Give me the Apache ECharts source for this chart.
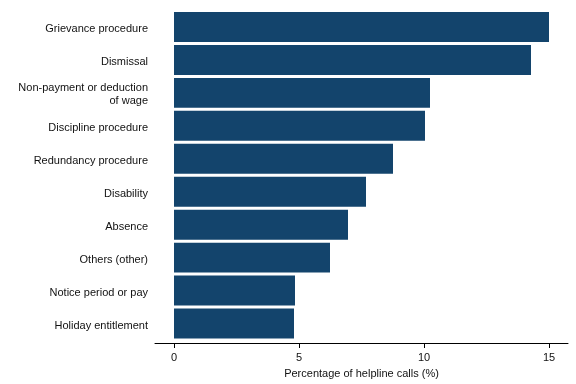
<!DOCTYPE html>
<html>
<head>
<meta charset="utf-8">
<script src="https://cdn.jsdelivr.net/npm/echarts@6/dist/echarts.min.js"></script>
<style>html,body{margin:0;padding:0;background:#fff;}#c{width:576px;height:384px;}</style>
</head>
<body>
<div id="c"></div>
<script>
var categories = ["Grievance procedure", "Dismissal", "Non-payment or deduction\nof wage", "Discipline procedure", "Redundancy procedure", "Disability", "Absence", "Others (other)", "Notice period or pay", "Holiday entitlement"];
var values = [15.0, 14.28, 10.24, 10.04, 8.76, 7.68, 6.96, 6.24, 4.84, 4.8];
var xTicks = [0, 5, 10, 15];

var chart = echarts.init(document.getElementById('c'), null, {renderer: 'canvas'});
chart.setOption({
  animation: false,
  grid: {left: 155, right: 8, top: 10.5, bottom: 43.5, containLabel: false},
  xAxis: {
    type: 'value',
    min: -0.76, max: 15.76,
    offset: 3,
    name: 'Percentage of helpline calls (%)',
    nameLocation: 'middle',
    nameGap: 25,
    nameTextStyle: {fontFamily: 'Liberation Sans, Arial', fontSize: 11, color: '#111'},
    axisLine: {show: true, lineStyle: {color: '#000', width: 1}},
    axisTick: {show: true, length: 5, customValues: xTicks, lineStyle: {color: '#000'}},
    axisLabel: {customValues: xTicks, margin: 9, fontFamily: 'Liberation Sans, Arial', fontSize: 11, color: '#111'},
    splitLine: {show: false}
  },
  yAxis: {
    type: 'category',
    data: categories,
    inverse: true,
    axisLine: {show: false},
    axisTick: {show: false},
    axisLabel: {
      margin: 7, fontFamily: 'Liberation Sans, Arial', fontSize: 11, color: '#111', lineHeight: 13, align: 'right',
      formatter: function (v) {
        return '{s|}\n' + v.split('\n').map(function (l) { return '{t|' + l + '}'; }).join('\n');
      },
      rich: {
        s: {lineHeight: 4, fontSize: 4},
        t: {fontFamily: 'Liberation Sans, Arial', fontSize: 11, color: '#111', lineHeight: 13, align: 'right'}
      }
    }
  },
  series: [{
    type: 'bar',
    data: values,
    barCategoryGap: '9.1%',
    itemStyle: {color: '#13446c'}
  }]
});
</script>
</body>
</html>
